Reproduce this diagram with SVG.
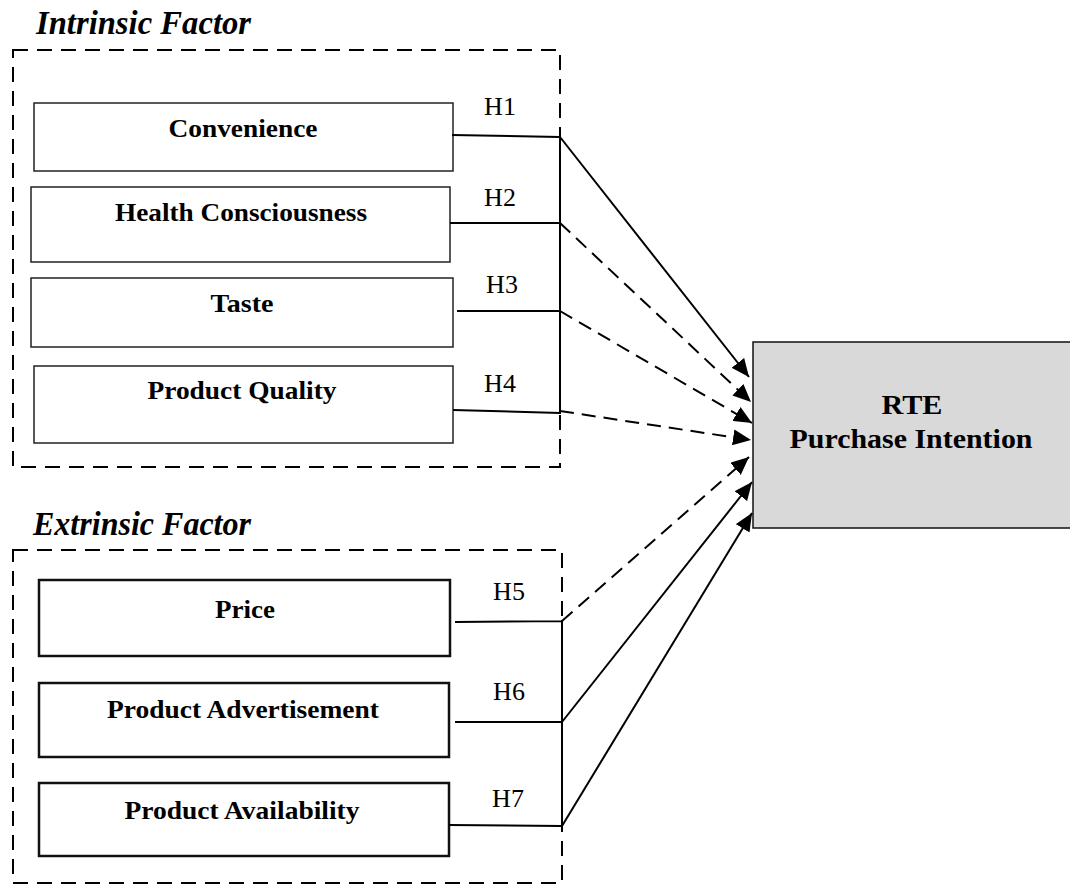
<svg xmlns="http://www.w3.org/2000/svg" width="1070" height="888" viewBox="0 0 1070 888">
<style>
.title{font-family:"Liberation Serif","Times New Roman",serif;font-weight:bold;font-style:italic;font-size:33px;fill:#000}
.lbl{font-family:"Liberation Serif","Times New Roman",serif;font-weight:bold;font-size:26px;fill:#000;text-anchor:middle}
.big{font-family:"Liberation Serif","Times New Roman",serif;font-weight:bold;font-size:28px;fill:#000;text-anchor:middle}
.h{font-family:"Liberation Serif","Times New Roman",serif;font-size:26px;fill:#000;text-anchor:middle}
.grp{fill:none;stroke:#000;stroke-width:2;stroke-dasharray:15 9}
.node{fill:#fff;stroke:#222;stroke-width:1.5}
.node2{fill:#fff;stroke:#111;stroke-width:2.5}
.ln{fill:none;stroke:#000;stroke-width:2}
.dash{stroke-dasharray:14 8}
</style>
<defs>
<marker id="ah" markerUnits="userSpaceOnUse" markerWidth="20" markerHeight="16" refX="18" refY="8" orient="auto">
<path d="M0,0 L18,8 L0,16 z" fill="#000"/>
</marker>
</defs>
<rect width="1070" height="888" fill="#fff"/>

<g id="intrinsic-group">
<text class="title" x="36" y="34" textLength="215" lengthAdjust="spacingAndGlyphs">Intrinsic Factor</text>
<rect class="grp" x="13" y="50" width="547" height="417"/>
</g>
<g id="extrinsic-group">
<text class="title" x="33" y="535" textLength="218" lengthAdjust="spacingAndGlyphs">Extrinsic Factor</text>
<rect class="grp" x="13" y="550" width="549" height="333"/>
</g>

<g id="convenience"><rect class="node" x="34" y="103" width="419" height="68"/><text class="lbl" x="243" y="137" textLength="149" lengthAdjust="spacingAndGlyphs">Convenience</text></g>
<g id="health"><rect class="node" x="31" y="187" width="419" height="75"/><text class="lbl" x="241" y="221" textLength="252" lengthAdjust="spacingAndGlyphs">Health Consciousness</text></g>
<g id="taste"><rect class="node" x="31" y="278" width="422" height="69"/><text class="lbl" x="242" y="312" textLength="63" lengthAdjust="spacingAndGlyphs">Taste</text></g>
<g id="quality"><rect class="node" x="34" y="366" width="419" height="77"/><text class="lbl" x="242" y="399" textLength="189" lengthAdjust="spacingAndGlyphs">Product Quality</text></g>

<g id="price"><rect class="node2" x="39" y="580" width="411" height="76"/><text class="lbl" x="245" y="618" textLength="60" lengthAdjust="spacingAndGlyphs">Price</text></g>
<g id="advertisement"><rect class="node2" x="39" y="683" width="410" height="74"/><text class="lbl" x="243" y="718" textLength="272" lengthAdjust="spacingAndGlyphs">Product Advertisement</text></g>
<g id="availability"><rect class="node2" x="39" y="783" width="410" height="73"/><text class="lbl" x="242" y="819" textLength="235" lengthAdjust="spacingAndGlyphs">Product Availability</text></g>

<g id="rte"><rect x="753" y="342" width="330" height="186" fill="#d9d9d9" stroke="#111" stroke-width="1.5"/>
<text class="big" x="912" y="414" textLength="61" lengthAdjust="spacingAndGlyphs">RTE</text>
<text class="big" x="911" y="448" textLength="243" lengthAdjust="spacingAndGlyphs">Purchase Intention</text></g>

<g id="connectors">
<path class="ln" d="M452,135 L560,137 M450,223 L560,223 M457,311 L560,311 M453,410 L560,413 M560,136 L560,414"/>
<path class="ln" d="M455,622 L562,621 M455,722 L562,722 M449,825 L562,826 M562,620 L562,827"/>
<line class="ln" x1="560" y1="137" x2="749" y2="377" marker-end="url(#ah)"/>
<line class="ln dash" x1="560" y1="223" x2="751" y2="402" marker-end="url(#ah)"/>
<line class="ln dash" x1="560" y1="311" x2="752" y2="423" marker-end="url(#ah)"/>
<line class="ln dash" x1="560" y1="411" x2="751" y2="440" marker-end="url(#ah)"/>
<line class="ln dash" x1="562" y1="621" x2="749" y2="457" marker-end="url(#ah)"/>
<line class="ln" x1="562" y1="722" x2="752" y2="482" marker-end="url(#ah)"/>
<line class="ln" x1="562" y1="826" x2="752" y2="513" marker-end="url(#ah)"/>
<text class="h" x="500" y="115">H1</text>
<text class="h" x="500" y="206">H2</text>
<text class="h" x="502" y="293">H3</text>
<text class="h" x="500" y="392">H4</text>
<text class="h" x="509" y="600">H5</text>
<text class="h" x="509" y="700">H6</text>
<text class="h" x="508" y="807">H7</text>
</g>
</svg>
